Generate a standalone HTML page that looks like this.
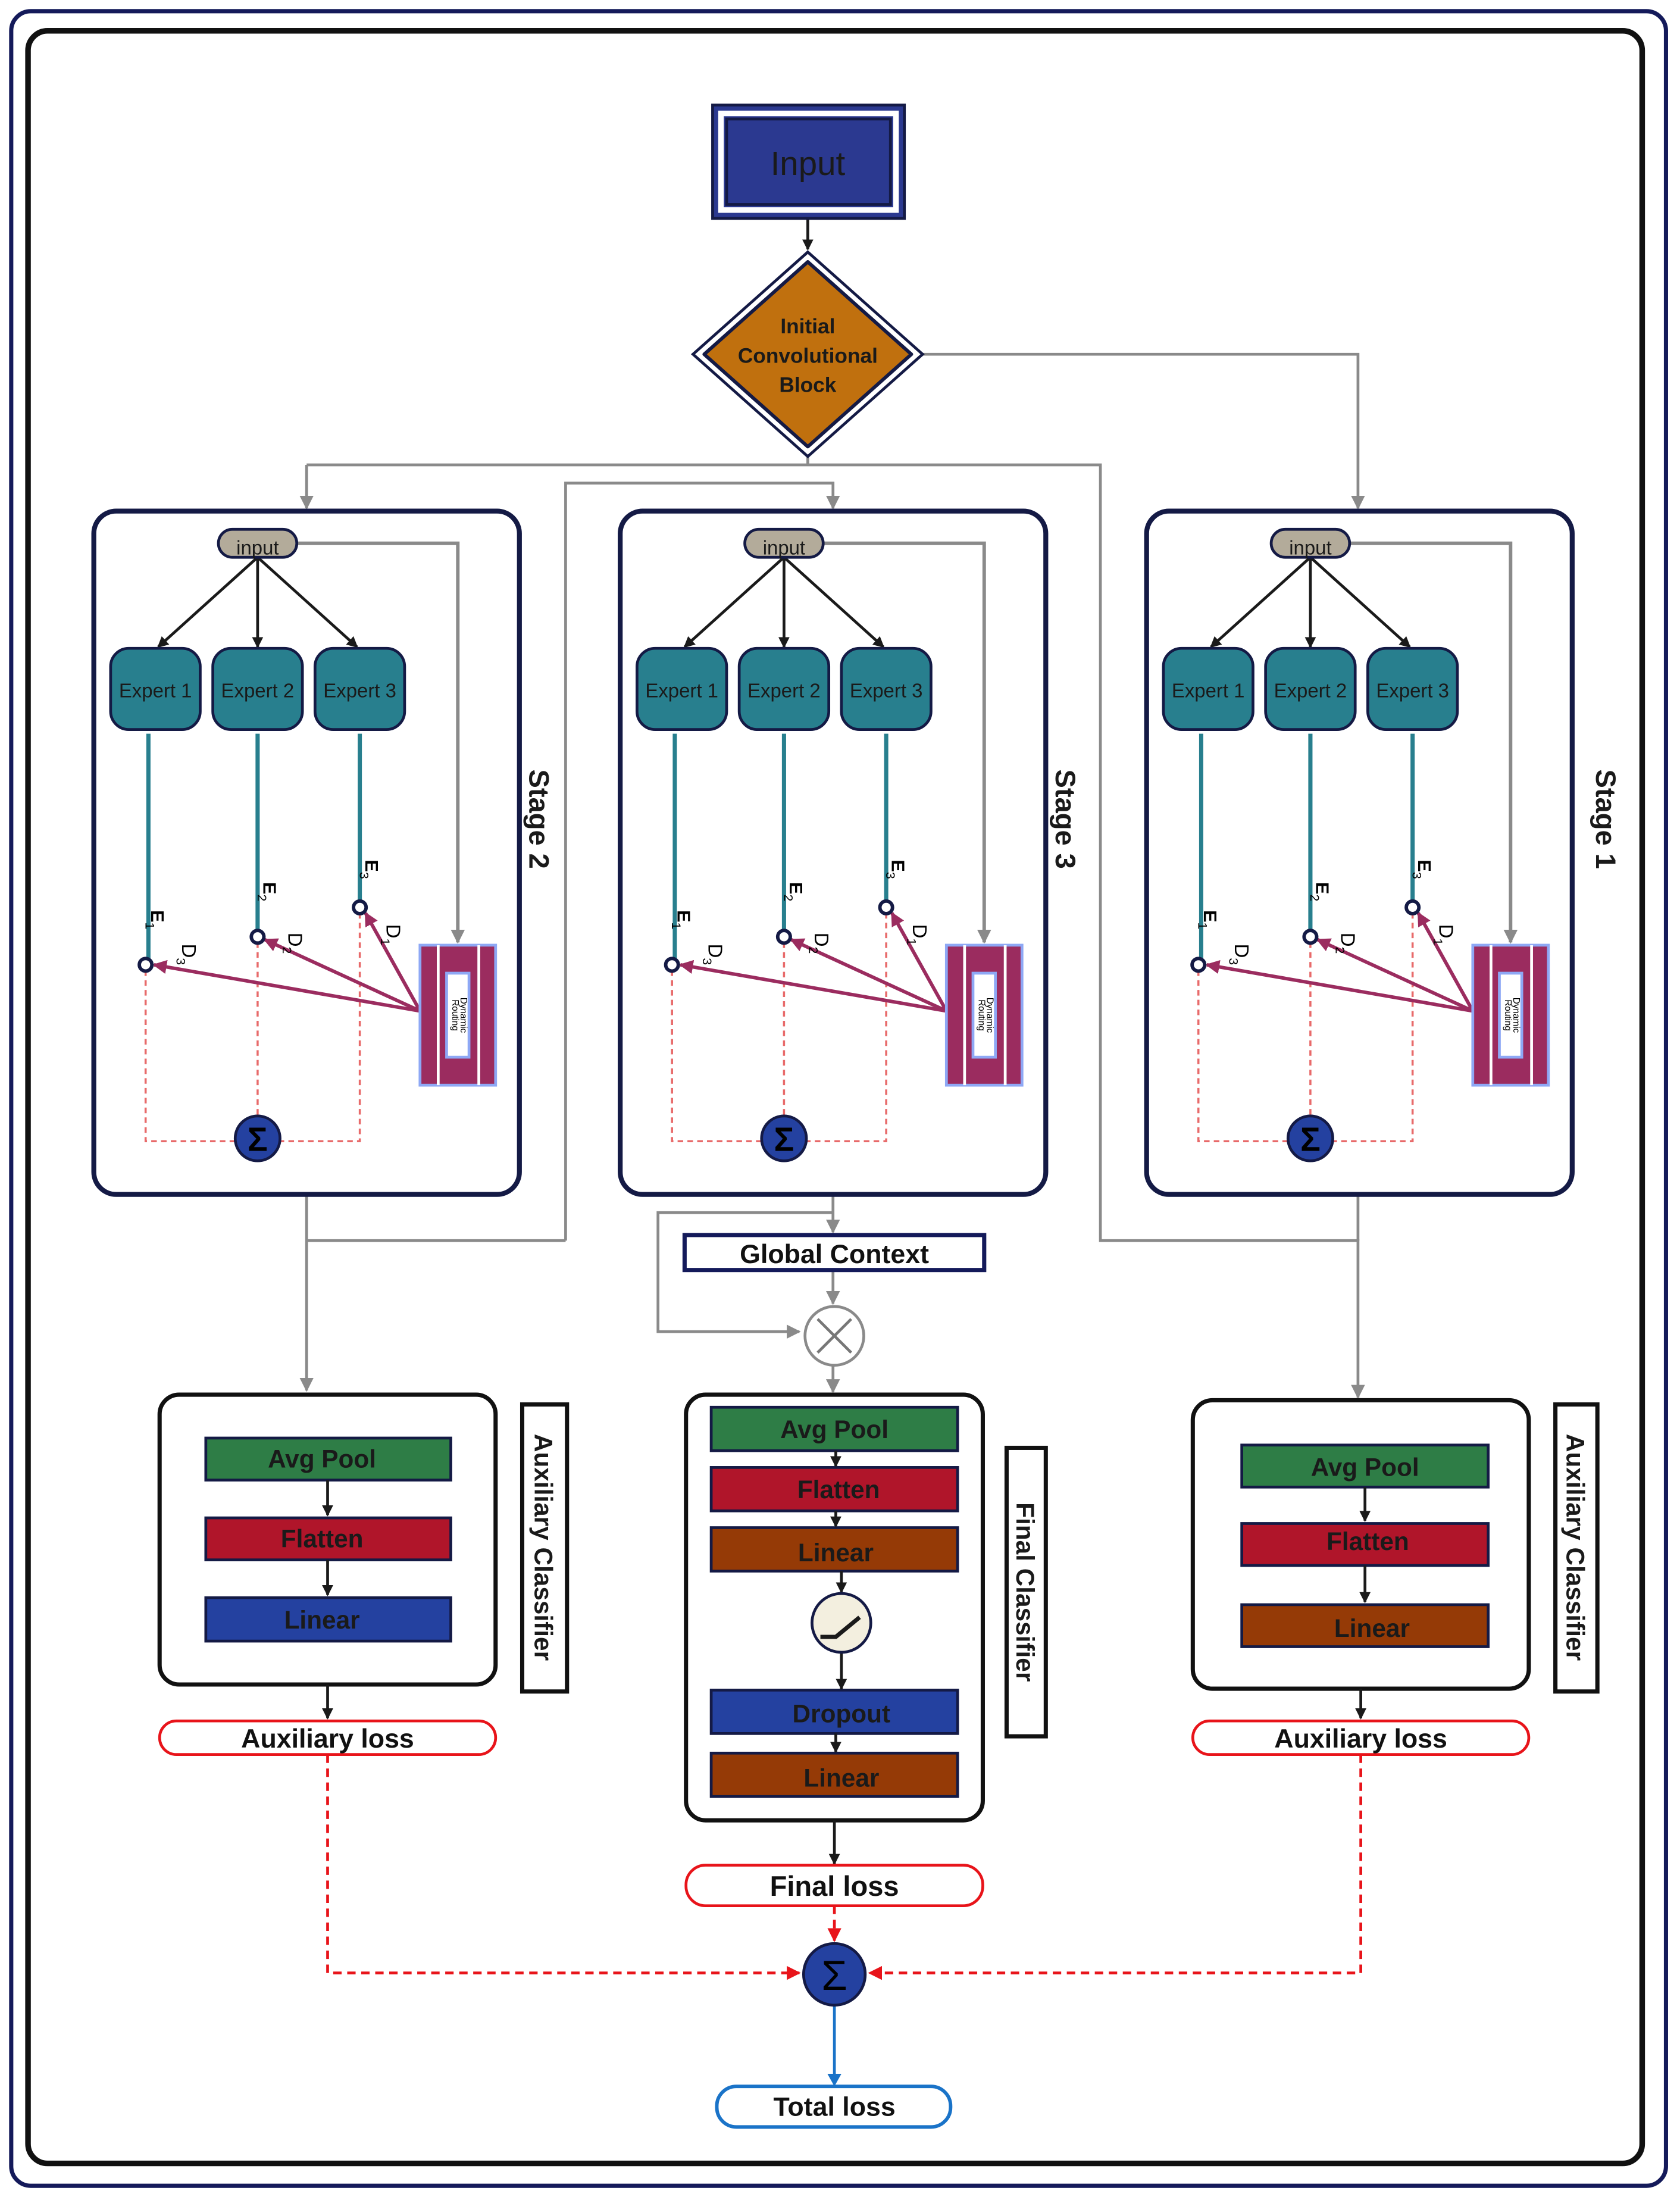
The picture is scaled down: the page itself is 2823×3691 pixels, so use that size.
<!DOCTYPE html>
<html><head><meta charset="utf-8"><style>html,body{margin:0;padding:0;background:#fff}svg{display:block}text{font-family:"Liberation Sans",sans-serif}</style></head><body>
<svg width="2823" height="3691" viewBox="0 0 1200 1569" xmlns="http://www.w3.org/2000/svg">
<defs>
<marker id="ab" markerWidth="8" markerHeight="8" refX="7" refY="4" orient="auto" markerUnits="userSpaceOnUse"><path d="M0,0L8,4L0,8z" fill="#1a1a1a"/></marker>
<marker id="ag" markerWidth="10" markerHeight="10" refX="9" refY="5" orient="auto" markerUnits="userSpaceOnUse"><path d="M0,0L10,5L0,10z" fill="#8a8a8a"/></marker>
<marker id="am" markerWidth="10" markerHeight="10" refX="9" refY="5" orient="auto" markerUnits="userSpaceOnUse"><path d="M0,0L10,5L0,10z" fill="#9b2c5f"/></marker>
<marker id="ar" markerWidth="10" markerHeight="10" refX="9" refY="5" orient="auto" markerUnits="userSpaceOnUse"><path d="M0,0L10,5L0,10z" fill="#e8141a"/></marker>
<g id="stage">
<rect x="67" y="365" width="304" height="488" rx="16" fill="#fff" stroke="#141a45" stroke-width="3.5"/>
<path d="M212,388H327V673" fill="none" stroke="#8a8a8a" stroke-width="2.5" marker-end="url(#ag)"/>
<line x1="184" y1="398" x2="113" y2="462" stroke="#1a1a1a" stroke-width="2" marker-end="url(#ab)"/>
<line x1="184" y1="398" x2="184" y2="462" stroke="#1a1a1a" stroke-width="2" marker-end="url(#ab)"/>
<line x1="184" y1="398" x2="255" y2="462" stroke="#1a1a1a" stroke-width="2" marker-end="url(#ab)"/>
<rect x="156" y="378" width="56" height="20" rx="10" fill="#b3ab9a" stroke="#141a45" stroke-width="2"/>
<text x="184" y="396" font-size="14" text-anchor="middle" fill="#1a1a1a">input</text>
<g fill="#287f8e" stroke="#141a45" stroke-width="2">
<rect x="79" y="463" width="64" height="58" rx="13"/><rect x="152" y="463" width="64" height="58" rx="13"/><rect x="225" y="463" width="64" height="58" rx="13"/></g>
<g font-size="14" text-anchor="middle" fill="#1a1a1a"><text x="111" y="498">Expert 1</text><text x="184" y="498">Expert 2</text><text x="257" y="498">Expert 3</text></g>
<g stroke="#287f8e" stroke-width="3"><line x1="106" y1="524" x2="106" y2="685"/><line x1="184" y1="524" x2="184" y2="665"/><line x1="257" y1="524" x2="257" y2="644"/></g>
<g stroke="#e86a6a" stroke-width="1.5" stroke-dasharray="4,3" fill="none">
<path d="M104,693V815H168"/><path d="M184,673V797"/><path d="M257,652V815H200"/></g>
<g stroke="#9b2c5f" stroke-width="2.5" fill="none">
<line x1="300" y1="722" x2="110" y2="689" marker-end="url(#am)"/>
<line x1="300" y1="722" x2="189" y2="671" marker-end="url(#am)"/>
<line x1="300" y1="722" x2="261" y2="652" marker-end="url(#am)"/></g>
<g fill="#fff" stroke="#141a45" stroke-width="2.5"><circle cx="104" cy="689" r="4.5"/><circle cx="184" cy="669" r="4.5"/><circle cx="257" cy="648" r="4.5"/></g>
<rect x="300" y="675" width="54" height="100" fill="#9b2c5f" stroke="#8ea8f5" stroke-width="2"/>
<line x1="313" y1="675" x2="313" y2="775" stroke="#fff" stroke-width="2"/><line x1="342" y1="675" x2="342" y2="775" stroke="#fff" stroke-width="2"/>
<rect x="319" y="695" width="16" height="60" fill="#fff" stroke="#8ea8f5" stroke-width="2"/>
<text transform="translate(329,725) rotate(90)" font-size="6.5" text-anchor="middle" fill="#000">Dynamic</text>
<text transform="translate(323,725) rotate(90)" font-size="6.5" text-anchor="middle" fill="#000">Routing</text>
<circle cx="184" cy="813" r="16" fill="#2441a0" stroke="#141a45" stroke-width="2"/>
<text x="184" y="822" font-size="24" text-anchor="middle" font-weight="bold" fill="#000">Σ</text>
<g font-size="13" fill="#000" font-weight="bold">
<text transform="translate(108,650) rotate(90)">E<tspan font-size="9" font-weight="normal" dy="4">1</tspan></text>
<text transform="translate(188,630) rotate(90)">E<tspan font-size="9" font-weight="normal" dy="4">2</tspan></text>
<text transform="translate(261,614) rotate(90)">E<tspan font-size="9" font-weight="normal" dy="4">3</tspan></text>
<text transform="translate(130,674) rotate(90)" font-weight="normal" font-size="14">D<tspan font-size="9" dy="4">3</tspan></text>
<text transform="translate(206,666) rotate(90)" font-weight="normal" font-size="14">D<tspan font-size="9" dy="4">2</tspan></text>
<text transform="translate(276,660) rotate(90)" font-weight="normal" font-size="14">D<tspan font-size="9" dy="4">1</tspan></text>
</g>
</g>
</defs>
<rect x="8" y="8" width="1182" height="1553" rx="14" fill="#fff" stroke="#141a5a" stroke-width="3"/>
<rect x="20" y="22" width="1153" height="1523" rx="14" fill="none" stroke="#111" stroke-width="4"/>
<g fill="none" stroke="#8a8a8a" stroke-width="2">
<path d="M659,253H970V363" marker-end="url(#ag)"/>
<path d="M577,326V332"/>
<path d="M219,332H786V886H970V998" marker-end="url(#ag)"/>
<path d="M219,332V363" marker-end="url(#ag)"/>
<path d="M404,886V345H595V363" marker-end="url(#ag)"/>
<path d="M219,853V993" marker-end="url(#ag)"/>
<path d="M219,886H404"/>
<path d="M970,853V886"/>
<path d="M595,853V880" marker-end="url(#ag)"/>
<path d="M595,866H470V951H571" marker-end="url(#ag)"/>
<path d="M595,907V931" marker-end="url(#ag)"/>
<path d="M595,975V994" marker-end="url(#ag)"/>
</g>
<line x1="577" y1="156" x2="577" y2="178" stroke="#1a1a1a" stroke-width="2" marker-end="url(#ab)"/>
<rect x="509" y="75" width="137" height="81" fill="#2b3990" stroke="#141a45" stroke-width="2"/>
<rect x="515" y="81" width="125" height="69" fill="none" stroke="#fff" stroke-width="4"/>
<rect x="519" y="85" width="117" height="61" fill="none" stroke="#141a45" stroke-width="2"/>
<text x="577" y="125" font-size="24" text-anchor="middle" fill="#1a1a1a">Input</text>
<path d="M577,180L659,253L577,326L495,253Z" fill="#fff" stroke="#141a45" stroke-width="2"/>
<path d="M577,187L651,253L577,319L503,253Z" fill="#c0700e" stroke="#141a45" stroke-width="2.5" stroke-linejoin="round"/>
<g font-size="15" font-weight="bold" text-anchor="middle" fill="#1a1a1a"><text x="577" y="238">Initial</text><text x="577" y="259">Convolutional</text><text x="577" y="280">Block</text></g>
<use href="#stage"/>
<use href="#stage" transform="translate(376,0)"/>
<use href="#stage" transform="translate(752,0)"/>
<g font-size="20" font-weight="bold" fill="#1a1a1a">
<text transform="translate(378,585) rotate(90)" text-anchor="middle">Stage 2</text>
<text transform="translate(754,585) rotate(90)" text-anchor="middle">Stage 3</text>
<text transform="translate(1140,585) rotate(90)" text-anchor="middle">Stage 1</text></g>
<rect x="489" y="882" width="214" height="25" fill="#fff" stroke="#141a5a" stroke-width="3"/>
<text x="596" y="902" font-size="19" font-weight="bold" text-anchor="middle" fill="#111">Global Context</text>
<circle cx="596" cy="954" r="21" fill="#fff" stroke="#8a8a8a" stroke-width="2"/>
<path d="M584,942L608,966M608,942L584,966" stroke="#777" stroke-width="2"/>
<rect x="114" y="996" width="240" height="207" rx="14" fill="#fff" stroke="#111" stroke-width="3"/>
<g stroke="#141a45" stroke-width="2"><rect x="147" y="1027" width="175" height="30" fill="#2e7d46"/><rect x="147" y="1084" width="175" height="30" fill="#b0152a"/><rect x="147" y="1141" width="175" height="31" fill="#2441a0"/></g>
<g stroke="#1a1a1a" stroke-width="2"><line x1="234" y1="1057" x2="234" y2="1082" marker-end="url(#ab)"/><line x1="234" y1="1114" x2="234" y2="1139" marker-end="url(#ab)"/><line x1="234" y1="1203" x2="234" y2="1227" marker-end="url(#ab)"/></g>
<g font-size="18" font-weight="bold" text-anchor="middle" fill="#1a1a1a"><text x="230" y="1048">Avg Pool</text><text x="230" y="1105">Flatten</text><text x="230" y="1163">Linear</text></g>
<rect x="373" y="1003" width="32" height="205" fill="#fff" stroke="#111" stroke-width="3"/>
<text transform="translate(382,1105) rotate(90)" font-size="18" font-weight="bold" text-anchor="middle" fill="#1a1a1a">Auxiliary Classifier</text>
<rect x="114" y="1229" width="240" height="24" rx="12" fill="#fff" stroke="#e8141a" stroke-width="2"/>
<text x="234" y="1248" font-size="19" font-weight="bold" text-anchor="middle" fill="#111">Auxiliary loss</text>
<rect x="852" y="1000" width="240" height="206" rx="14" fill="#fff" stroke="#111" stroke-width="3"/>
<g stroke="#141a45" stroke-width="2"><rect x="887" y="1032" width="176" height="30" fill="#2e7d46"/><rect x="887" y="1088" width="176" height="30" fill="#b0152a"/><rect x="887" y="1146" width="176" height="30" fill="#953a06"/></g>
<g stroke="#1a1a1a" stroke-width="2"><line x1="975" y1="1062" x2="975" y2="1086" marker-end="url(#ab)"/><line x1="975" y1="1118" x2="975" y2="1144" marker-end="url(#ab)"/><line x1="972" y1="1206" x2="972" y2="1227" marker-end="url(#ab)"/></g>
<g font-size="18" font-weight="bold" text-anchor="middle" fill="#1a1a1a"><text x="975" y="1054">Avg Pool</text><text x="977" y="1107">Flatten</text><text x="980" y="1169">Linear</text></g>
<rect x="1111" y="1003" width="30" height="205" fill="#fff" stroke="#111" stroke-width="3"/>
<text transform="translate(1119,1105) rotate(90)" font-size="18" font-weight="bold" text-anchor="middle" fill="#1a1a1a">Auxiliary Classifier</text>
<rect x="852" y="1229" width="240" height="24" rx="12" fill="#fff" stroke="#e8141a" stroke-width="2"/>
<text x="972" y="1248" font-size="19" font-weight="bold" text-anchor="middle" fill="#111">Auxiliary loss</text>
<rect x="490" y="996" width="212" height="304" rx="14" fill="#fff" stroke="#111" stroke-width="3"/>
<g stroke="#141a45" stroke-width="2"><rect x="508" y="1005" width="176" height="31" fill="#2e7d46"/><rect x="508" y="1048" width="176" height="31" fill="#b0152a"/><rect x="508" y="1091" width="176" height="31" fill="#953a06"/><rect x="508" y="1207" width="176" height="31" fill="#2441a0"/><rect x="508" y="1252" width="176" height="31" fill="#953a06"/></g>
<g stroke="#1a1a1a" stroke-width="2"><line x1="597" y1="1036" x2="597" y2="1047" marker-end="url(#ab)"/><line x1="597" y1="1079" x2="597" y2="1090" marker-end="url(#ab)"/><line x1="601" y1="1122" x2="601" y2="1137" marker-end="url(#ab)"/><line x1="601" y1="1180" x2="601" y2="1206" marker-end="url(#ab)"/><line x1="597" y1="1238" x2="597" y2="1251" marker-end="url(#ab)"/><line x1="596" y1="1300" x2="596" y2="1331" marker-end="url(#ab)"/></g>
<ellipse cx="601" cy="1159" rx="21" ry="21" fill="#f3efdf" stroke="#141a45" stroke-width="2"/>
<path d="M586,1169H597L614,1155" fill="none" stroke="#1a1a1a" stroke-width="3"/>
<g font-size="18" font-weight="bold" text-anchor="middle" fill="#1a1a1a"><text x="596" y="1027">Avg Pool</text><text x="599" y="1070">Flatten</text><text x="597" y="1115">Linear</text><text x="601" y="1230">Dropout</text><text x="601" y="1276">Linear</text></g>
<rect x="719" y="1034" width="28" height="206" fill="#fff" stroke="#111" stroke-width="3"/>
<text transform="translate(726,1137) rotate(90)" font-size="18" font-weight="bold" text-anchor="middle" fill="#1a1a1a">Final Classifier</text>
<rect x="490" y="1332" width="212" height="29" rx="14" fill="#fff" stroke="#e8141a" stroke-width="2"/>
<text x="596" y="1354" font-size="20" font-weight="bold" text-anchor="middle" fill="#111">Final loss</text>
<g fill="none" stroke="#e8141a" stroke-width="2" stroke-dasharray="6,4">
<path d="M234,1253V1409H571" marker-end="url(#ar)"/>
<path d="M972,1253V1409H621" marker-end="url(#ar)"/>
<path d="M596,1361V1386" marker-end="url(#ar)"/></g>
<line x1="596" y1="1432" x2="596" y2="1488" stroke="#1a73c8" stroke-width="2"/>
<path d="M591,1481L596,1490L601,1481z" fill="#1a73c8"/>
<circle cx="596" cy="1410" r="22" fill="#2441a0" stroke="#141a45" stroke-width="2"/>
<text x="596" y="1421" font-size="30" text-anchor="middle" fill="#000">Σ</text>
<rect x="512" y="1490" width="167" height="29" rx="14" fill="#fff" stroke="#1a73c8" stroke-width="2.5"/>
<text x="596" y="1511" font-size="19" font-weight="bold" text-anchor="middle" fill="#111">Total loss</text>
</svg>
</body></html>
